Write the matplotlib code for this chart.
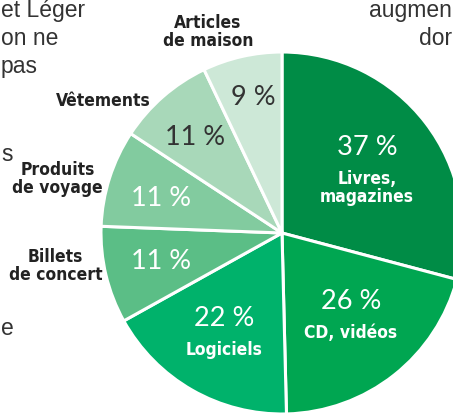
import matplotlib
matplotlib.use("Agg")
import matplotlib.pyplot as plt

# data
categories = ["Livres,\nmagazines", "CD, vidéos", "Logiciels", "Billets\nde concert",
              "Produits\nde voyage", "Vêtements", "Articles\nde maison"]
values = [37, 26, 22, 11, 11, 11, 9]
pct_labels = ["37 %", "26 %", "22 %", "11 %", "11 %", "11 %", "9 %"]

colors = ["#008c46", "#00a651", "#00b26b", "#5bbe86", "#82cb9f", "#a8d8b9", "#cde8d7"]
pct_colors = ["white", "white", "white", "white", "white", "#333333", "#333333"]
inside_name = [True, True, True, False, False, False, False]

# label spots (axes data units, pie radius = 1)
pct_pos = [(0.47, 0.47), (0.38, -0.38), (-0.32, -0.47), (-0.67, -0.16),
           (-0.67, 0.19), (-0.48, 0.53), (-0.16, 0.75)]
name_pos = [(0.47, 0.25), (0.38, -0.55), (-0.32, -0.645), (-1.25, -0.18),
            (-1.24, 0.30), (-0.99, 0.73), (-0.41, 1.11)]

BOLD = ["DejaVu Sans"]
LIGHT = ["Lato", "DejaVu Sans"]

fig = plt.figure(figsize=(4.53, 4.13), dpi=100)
ax = fig.add_axes([101 / 453, -1 / 413, 362 / 453, 362 / 413])
ax.pie(values, colors=colors, startangle=90, counterclock=False,
       wedgeprops=dict(edgecolor="white", linewidth=2.2))
ax.set_xlim(-1, 1)
ax.set_ylim(-1, 1)
ax.axis("off")

for i in range(len(values)):
    x, y = pct_pos[i]
    ax.text(x, y, pct_labels[i], ha="center", va="center",
            color=pct_colors[i], fontsize=19.5, family=LIGHT, fontweight="normal",
            clip_on=False)
    nx, ny = name_pos[i]
    ax.text(nx, ny, categories[i], ha="center", va="center",
            color="white" if inside_name[i] else "#222222",
            fontsize=12.5, family=BOLD, fontweight="bold", fontstretch="condensed",
            linespacing=1.0, clip_on=False)

# bits of the surrounding page text, cut by the crop
page_text = [(0.002, 0.975, "et Léger", "left"), (0.002, 0.907, "on ne", "left"),
             (0.002, 0.84, "pas", "left"), (0.002, 0.625, "s", "left"),
             (0.002, 0.205, "e", "left"),
             (0.998, 0.975, "augmen", "right"), (0.998, 0.907, "dor", "right")]
for px, py, s, al in page_text:
    fig.text(px, py, s, ha=al, va="center", fontsize=16.5, color="#333333",
             family=["Liberation Sans", "DejaVu Sans"])

fig.savefig("out.png", dpi=100, facecolor="white")
